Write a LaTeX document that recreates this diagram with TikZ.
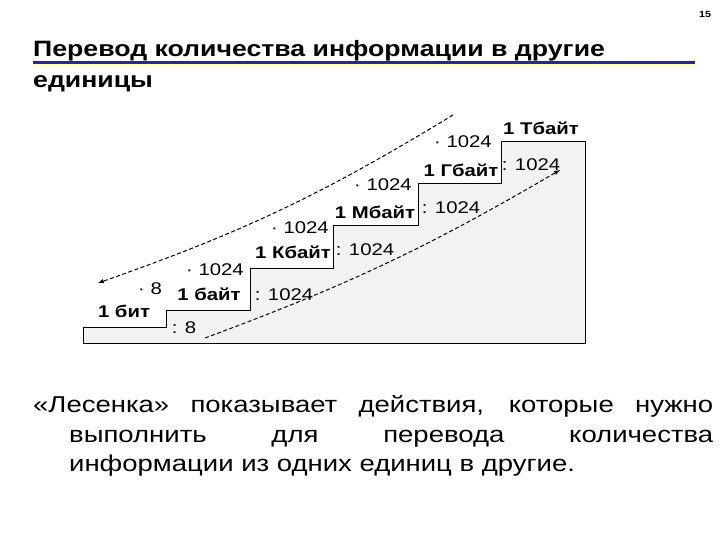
\documentclass[tikz,border=0pt]{standalone}
\usepackage{fontspec}
\setmainfont{Liberation Sans}[FakeStretch=1.2]
\definecolor{cus-navy}{RGB}{44,44,110}
\definecolor{cus-cream}{RGB}{255,255,210}
\definecolor{cus-step}{RGB}{242,242,242}

\begin{document}
\begin{tikzpicture}[x=1bp, y=-1bp,
	unit/.style={font=\bfseries\fontsize{17}{18}\selectfont, inner sep=0pt},
	op/.style={font=\fontsize{17}{18}\selectfont, inner sep=0pt},
	hop/.style={line width=1bp, dash pattern=on 4bp off 2.5bp, -latex}]
\useasboundingbox (0,0) rectangle (720,540);
\node [font=\bfseries\fontsize{9}{10}\selectfont] (page) at (705,14) {15};
\node [anchor=base west, inner sep=0pt, font=\bfseries\fontsize{22.3}{24}\selectfont] (head1) at (33,57) {Перевод количества информации в другие};
\node [anchor=base west, inner sep=0pt, font=\bfseries\fontsize{22.3}{24}\selectfont] (head2) at (33,88) {единицы};
\draw [cus-cream, line width=3bp] (33,66) -- (695,66);
\draw [cus-navy, line width=2.5bp] (33,62.5) -- (695,62.5);
\draw [fill=cus-step, line width=0.9bp] (83,343) -- (83,327) -- (166,327) -- (166,310) -- (250,310)
	-- (250,268) -- (333,268) -- (333,225) -- (418,225) -- (418,183) -- (501,183) -- (501,141)
	-- (585,141) -- (585,343) -- cycle;
\node [unit] (bit) at (124,311) {1 бит};
\node [unit] (byte) at (209,294) {1 байт};
\foreach \n/\u/\x/\y in {kb/К/293/252, mb/М/375/212, gb/Г/461/170, tb/Т/541/128}{
	\node [unit] (\n) at (\x,\y) {1 \u байт};
}
\node [op] (mul-bit) at (150,289) {· 8};
\node [op] (div-byte) at (184,328) {: 8};
\foreach \n/\x/\y in {mul-byte/215/270, mul-kb/300/228, mul-mb/383/185, mul-gb/463/142}{
	\node [op] (\n) at (\x,\y) {· 1024};
}
\foreach \n/\x/\y in {div-kb/284/295, div-mb/365/250, div-gb/451/208, div-tb/531/165}{
	\node [op] (\n) at (\x,\y) {: 1024};
}
\coordinate (up-start) at (453,115);
\coordinate (up-end) at (98,283);
\coordinate (down-start) at (205,338);
\coordinate (down-end) at (560,170);
\draw [hop] (up-start) to [bend left=6] (up-end);
\draw [hop] (down-start) to [bend right=5] (down-end);
\node [anchor=north west, inner sep=0pt, text width=680bp, align=justify,
	font=\fontsize{23}{30}\selectfont] (note) at (33,395) {\hangindent=36bp \hangafter=1
	«Лесенка» показывает действия, которые нужно\linebreak выполнить для перевода количества\linebreak
	информации из одних единиц в другие.\par};
\end{tikzpicture}
\end{document}
